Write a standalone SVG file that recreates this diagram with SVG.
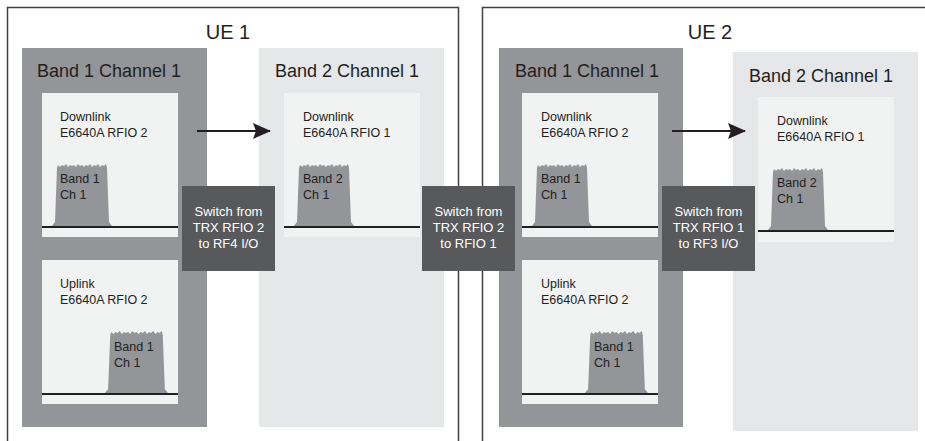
<svg xmlns="http://www.w3.org/2000/svg" width="925" height="441" viewBox="0 0 925 441">
<style>
.frame{fill:none;stroke:#414042;stroke-width:1.5}
.ue{font-family:"Liberation Sans",Arial,sans-serif;font-size:20px;fill:#231f20}
.bdark{fill:#939598}
.blight{fill:#e6e7e8}
.title{font-family:"Liberation Sans",Arial,sans-serif;font-size:18px;fill:#231f20}
.panel{fill:#f1f2f2}
.lbl{font-family:"Liberation Sans",Arial,sans-serif;font-size:12.5px;fill:#231f20}
.axis{stroke:#231f20;stroke-width:2}
.spec{fill:#939598}
.sw{fill:#58595b}
.swt{font-family:"Liberation Sans",Arial,sans-serif;font-size:13px;fill:#ffffff;text-anchor:middle}
.conn{stroke:#231f20;stroke-width:2;fill:none}
</style>
<defs>
<path id="spectrum" d="M0,0 L3,-4 L5,-58 L6,-61 L8,-59 L10,-61 L12,-60 L14,-62 L16,-59 L18,-61 L20,-60 L22,-61 L24,-59 L26,-62 L28,-60 L30,-61 L32,-59 L34,-61 L36,-60 L38,-62 L40,-59 L42,-61 L44,-60 L46,-62 L48,-59 L50,-61 L52,-60 L54,-62 L55,-58 L57,-4 L60,0 Z"/>
<marker id="arrow" markerUnits="userSpaceOnUse" markerWidth="18" markerHeight="16" refX="17" refY="8" orient="auto">
<path d="M0,0 L18,8 L0,16 L3,8 Z" fill="#231f20"/>
</marker>
</defs>

<g id="ue1">
<path class="frame" d="M7.5,441 V7.5 H458.5 V441"/>
<text class="ue" x="228" y="39" text-anchor="middle">UE 1</text>
</g>
<g id="ue2">
<path class="frame" d="M482.5,441 V7.5 H925"/>
<text class="ue" x="710" y="39" text-anchor="middle">UE 2</text>
</g>

<g id="ue1-band1">
<rect class="bdark" x="22" y="48" width="185" height="379"/>
<text class="title" x="37" y="77">Band 1 Channel 1</text>
</g>
<g id="ue1-band1-downlink">
<rect class="panel" x="42" y="93" width="136" height="144"/>
<text class="lbl" x="60" y="121">Downlink</text>
<text class="lbl" x="60" y="137">E6640A RFIO 2</text>
<use href="#spectrum" class="spec" transform="translate(52,226)"/>
<line class="axis" x1="42" y1="227" x2="178" y2="227"/>
<text class="lbl" x="60" y="183">Band 1</text>
<text class="lbl" x="60" y="199">Ch 1</text>
</g>
<g id="ue1-band1-uplink">
<rect class="panel" x="42" y="260" width="136" height="144"/>
<text class="lbl" x="60" y="288">Uplink</text>
<text class="lbl" x="60" y="304">E6640A RFIO 2</text>
<use href="#spectrum" class="spec" transform="translate(105,393) scale(1.05,1)"/>
<line class="axis" x1="42" y1="394" x2="178" y2="394"/>
<text class="lbl" x="114" y="351">Band 1</text>
<text class="lbl" x="114" y="367">Ch 1</text>
</g>

<g id="ue1-band2">
<rect class="blight" x="259" y="48" width="185" height="379"/>
<text class="title" x="275" y="77">Band 2 Channel 1</text>
</g>
<g id="ue1-band2-downlink">
<rect class="panel" x="284" y="93" width="136" height="144"/>
<text class="lbl" x="303" y="121">Downlink</text>
<text class="lbl" x="303" y="137">E6640A RFIO 1</text>
<use href="#spectrum" class="spec" transform="translate(294,226)"/>
<line class="axis" x1="284" y1="227" x2="420" y2="227"/>
<text class="lbl" x="303" y="183">Band 2</text>
<text class="lbl" x="303" y="199">Ch 1</text>
</g>

<g id="ue2-band1">
<rect class="bdark" x="499" y="48" width="184" height="379"/>
<text class="title" x="515" y="77">Band 1 Channel 1</text>
</g>
<g id="ue2-band1-downlink">
<rect class="panel" x="522" y="93" width="136" height="144"/>
<text class="lbl" x="541" y="121">Downlink</text>
<text class="lbl" x="541" y="137">E6640A RFIO 2</text>
<use href="#spectrum" class="spec" transform="translate(532,226)"/>
<line class="axis" x1="522" y1="227" x2="658" y2="227"/>
<text class="lbl" x="541" y="183">Band 1</text>
<text class="lbl" x="541" y="199">Ch 1</text>
</g>
<g id="ue2-band1-uplink">
<rect class="panel" x="522" y="260" width="136" height="144"/>
<text class="lbl" x="541" y="288">Uplink</text>
<text class="lbl" x="541" y="304">E6640A RFIO 2</text>
<use href="#spectrum" class="spec" transform="translate(585,393) scale(1.05,1)"/>
<line class="axis" x1="522" y1="394" x2="658" y2="394"/>
<text class="lbl" x="594" y="351">Band 1</text>
<text class="lbl" x="594" y="367">Ch 1</text>
</g>

<g id="ue2-band2">
<rect class="blight" x="733" y="52" width="185" height="379"/>
<text class="title" x="749" y="82">Band 2 Channel 1</text>
</g>
<g id="ue2-band2-downlink">
<rect class="panel" x="758" y="97" width="136" height="145"/>
<text class="lbl" x="777" y="125">Downlink</text>
<text class="lbl" x="777" y="141">E6640A RFIO 1</text>
<use href="#spectrum" class="spec" transform="translate(768,230)"/>
<line class="axis" x1="758" y1="231" x2="894" y2="231"/>
<text class="lbl" x="777" y="187">Band 2</text>
<text class="lbl" x="777" y="203">Ch 1</text>
</g>

<g id="connectors">
<line class="conn" x1="197" y1="131" x2="270" y2="131" marker-end="url(#arrow)"/>
<line class="conn" x1="672" y1="131" x2="745" y2="131" marker-end="url(#arrow)"/>
</g>

<g id="switch1">
<rect class="sw" x="182" y="186" width="93" height="85"/>
<text class="swt" x="228.5" y="216">Switch from</text>
<text class="swt" x="228.5" y="232">TRX RFIO 2</text>
<text class="swt" x="228.5" y="248">to RF4 I/O</text>
</g>
<g id="switch2">
<rect class="sw" x="422" y="186" width="93" height="85"/>
<text class="swt" x="468.5" y="216">Switch from</text>
<text class="swt" x="468.5" y="232">TRX RFIO 2</text>
<text class="swt" x="468.5" y="248">to RFIO 1</text>
</g>
<g id="switch3">
<rect class="sw" x="662" y="186" width="93" height="85"/>
<text class="swt" x="708.5" y="216">Switch from</text>
<text class="swt" x="708.5" y="232">TRX RFIO 1</text>
<text class="swt" x="708.5" y="248">to RF3 I/O</text>
</g>
</svg>
